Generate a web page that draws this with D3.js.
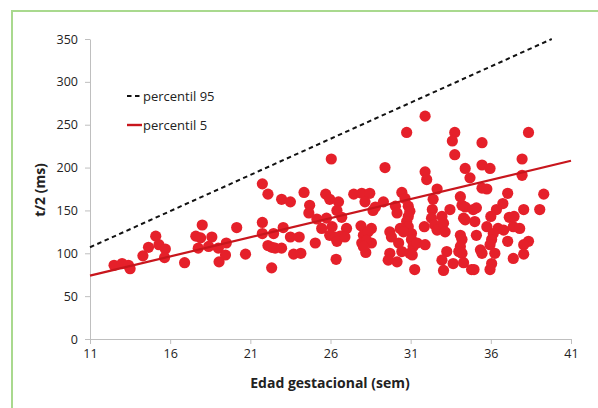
<!DOCTYPE html>
<html><head><meta charset="utf-8">
<script src="https://cdn.jsdelivr.net/npm/d3@7"></script>
<style>html,body{margin:0;padding:0;background:#fff;}svg{display:block;}</style>
</head><body>
<div id="chart"></div>
<script>
const xTicks = [11,16,21,26,31,36,41];
const yTicks = [0,50,100,150,200,250,300,350];
const xLabel = "Edad gestacional (sem)";
const yLabel = "t/2 (ms)";
const legendLabels = ["percentil 95","percentil 5"];
const p95 = [[11,107],[39.8,350]];
const p5 = [[11,74],[41,208]];
const weeks = [
12.5,13.0,13.4,13.5,14.3,14.65,15.1,15.3,15.7,15.65,16.9,17.6,18.0,17.75,17.9,18.6,18.4,19.0,19.5,19.45,19.05,20.15,20.7,
21.75,22.1,21.75,21.75,22.45,23.05,22.1,22.35,22.55,22.95,22.33,22.95,23.5,23.5,24.05,23.7,24.15,24.35,24.7,24.65,25.05,25.15,25.45,25.75,25.7,26.05,25.95,26.5,26.4,26.7,26.1,25.95,26.3,26.6,26.4,27.0,26.9,26.35,27.45,27.95,28.45,28.15,27.9,28.05,27.95,28.2,28.55,28.65,28.55,28.35,28.25,28.05,
29.4,30.75,31.9,33.75,33.6,33.75,31.9,32.0,34.4,34.7,30.45,30.65,32.65,32.4,28.8,29.3,30.05,30.15,30.85,30.95,30.85,30.75,30.85,31.05,31.05,31.15,31.4,30.95,31.1,30.35,30.55,29.7,29.8,30.25,30.45,29.7,29.6,30.15,31.25,31.9,31.85,32.35,32.3,32.5,32.65,32.95,33.05,33.15,33.45,33.25,32.95,33.05,33.65,34.1,34.2,34.4,34.3,34.4,34.1,34.2,34.1,34.0,34.2,34.3,34.8,34.9,
38.35,35.45,35.45,35.95,37.95,37.95,35.45,35.75,37.05,39.3,36.75,36.35,35.1,38.05,39.05,36.0,37.15,37.45,35.0,35.75,36.45,36.8,37.4,37.8,36.15,35.1,36.05,35.95,37.05,38.35,38.05,35.35,35.45,36.25,38.05,37.4,36.05,35.95,34.95
];
const halfT = [
86,88,86,82,97,107,120,110,105,95,89,120,133,106,118,119,108,106,112,98,90,130,99,
181,169,136,123,123,130,109,107,106,106,83,163,160,119,119,99,100,171,156,147,112,140,129,141,169,210,163,160,150,142,131,121,119,120,114,129,119,93,169,170,170,160,132,121,112,101,129,150,112,125,115,108,
200,241,260,241,231,215,195,186,199,188,171,164,175,163,154,160,155,147,155,149,143,137,131,123,116,108,112,100,98,129,125,125,119,112,102,100,92,90,81,110,131,151,141,133,127,143,135,125,151,102,92,80,88,166,156,154,141,139,121,116,108,102,100,89,81,151,
241,229,203,199,210,191,176,175,170,169,158,151,153,151,151,143,142,143,137,131,129,127,131,129,123,121,116,110,114,114,110,104,100,100,99,94,88,81,81
];

const W = 598, H = 408;
const svg = d3.select("#chart").append("svg").attr("width", W).attr("height", H);
const font = "'Open Sans', 'Noto Sans', sans-serif";

// frame
svg.append("path").attr("d", `M12,${H} L12,11 L${W},11`).attr("fill","none")
  .attr("stroke","#a9d98e").attr("stroke-width",2);

const x = d3.scaleLinear().domain([11,41]).range([90,571]);
const y = d3.scaleLinear().domain([0,350]).range([339,39]);

const axisColor = "#bfbfbf";
const gx = svg.append("g").attr("transform","translate(0,339)")
  .call(d3.axisBottom(x).tickValues(xTicks).tickSize(5).tickSizeOuter(0).tickPadding(5));
const gy = svg.append("g").attr("transform","translate(90,0)")
  .call(d3.axisLeft(y).tickValues(yTicks).tickSize(5).tickSizeOuter(0).tickPadding(7));
[gx,gy].forEach(g=>{
  g.select(".domain").attr("stroke",axisColor);
  g.selectAll(".tick line").attr("stroke",axisColor);
  g.selectAll(".tick text").attr("fill","#222").style("font-family",font).style("font-size","12.5px");
});

const pts = weeks.map((w,i)=>[w,halfT[i]]);
svg.append("g").selectAll("circle").data(pts).join("circle")
  .attr("cx",d=>x(d[0])).attr("cy",d=>y(d[1])).attr("r",5.6)
  .attr("fill","#e5202a");

const line = d3.line().x(d=>x(d[0])).y(d=>y(d[1]));
svg.append("path").datum(p5).attr("d",line).attr("fill","none")
  .attr("stroke","#c8161d").attr("stroke-width",2.2);
svg.append("path").datum(p95).attr("d",line).attr("fill","none")
  .attr("stroke","#111").attr("stroke-width",2).attr("stroke-dasharray","4.5,3.5");

// legend
const lg = svg.append("g");
lg.append("line").attr("x1",127).attr("x2",142).attr("y1",96).attr("y2",96)
  .attr("stroke","#111").attr("stroke-width",2).attr("stroke-dasharray","4.5,3.5");
lg.append("line").attr("x1",127).attr("x2",142).attr("y1",125).attr("y2",125)
  .attr("stroke","#c8161d").attr("stroke-width",2.4);
lg.selectAll("text").data(legendLabels).join("text")
  .attr("x",143).attr("y",(d,i)=>96+i*29).attr("dy","0.35em")
  .style("font-family",font).style("font-size","13px").attr("fill","#222").text(d=>d);

svg.append("text").attr("x",330).attr("y",388).attr("text-anchor","middle")
  .style("font-family",font).style("font-size","14px").style("font-weight","bold")
  .attr("fill","#222").text(xLabel);
svg.append("text").attr("transform","translate(45,190) rotate(-90)").attr("text-anchor","middle")
  .style("font-family",font).style("font-size","14px").style("font-weight","bold")
  .attr("fill","#222").text(yLabel);
</script>
</body></html>
